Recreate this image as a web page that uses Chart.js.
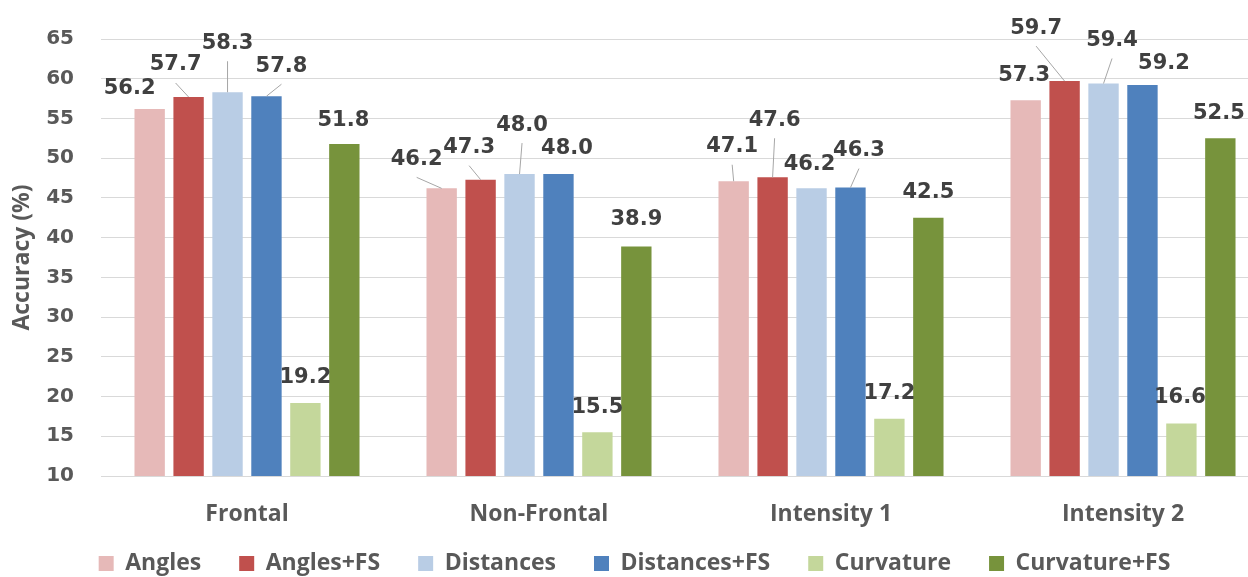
<!DOCTYPE html>
<html>
<head>
<meta charset="utf-8">
<script src="https://cdn.jsdelivr.net/npm/chart.js@4"></script>
<style>
  html, body { margin: 0; padding: 0; background: #fff; overflow: hidden; }
</style>
</head>
<body>
<canvas id="grafica" width="1330" height="602"></canvas>
<script>
const categories = ['Frontal', 'Non-Frontal', 'Intensity 1', 'Intensity 2'];
const seriesNames = ['Angles', 'Angles+FS', 'Distances', 'Distances+FS', 'Curvature', 'Curvature+FS'];

const angles      = [56.2, 46.2, 47.1, 57.3];
const anglesFS    = [57.7, 47.3, 47.6, 59.7];
const distances   = [58.3, 48.0, 46.2, 59.4];
const distancesFS = [57.8, 48.0, 46.3, 59.2];
const curvature   = [19.2, 15.5, 17.2, 16.6];
const curvatureFS = [51.8, 38.9, 42.5, 52.5];

const yTicks = { min: 10, max: 65, step: 5 };

const colores = ['#E6B9B8', '#C0504D', '#B9CDE5', '#4F81BD', '#C4D79B', '#77933C'];

// where each value label sits relative to the top of its bar: [dx, dy, leader line?]
const labelShift = [
  [[-20, -20, 0], [-25, -29, 1], [-1.5, -34.5, 1], [-1.5, -25, 0]],
  [[-13, -32, 1], [-11.5, -32, 1], [2, -57, 1], [-28.5, -53, 1]],
  [[0, -49, 1], [2.5, -49, 1], [-2, -24, 0], [8.5, -43, 1]],
  [[15, -30, 1], [8.5, -26, 0], [8.5, -37, 1], [21.5, -22, 0]],
  [[0, -25, 0], [0, -25, 0], [0, -25, 0], [-1.5, -26.5, 0]],
  [[-1, -23, 0], [0, -27, 0], [0, -25, 0], [-1.5, -25, 0]]
];

const valueLabels = {
  id: 'valueLabels',
  // pull the legend up a bit so it sits closer to the category names
  afterLayout(chart) {
    const lg = chart.legend;
    lg.top -= 17;
    lg.bottom -= 17;
  },
  afterDatasetsDraw(chart) {
    const ctx = chart.ctx;
    ctx.save();
    chart.data.datasets.forEach((ds, d) => {
      const meta = chart.getDatasetMeta(d);
      meta.data.forEach((bar, i) => {
        const [dx, dy, leader] = labelShift[d][i];
        const lx = bar.x + dx;
        const ly = bar.y + dy;
        if (leader) {
          ctx.strokeStyle = '#a6a6a6';
          ctx.lineWidth = 1;
          ctx.beginPath();
          ctx.moveTo(lx, ly + 18);
          ctx.lineTo(bar.x, bar.y);
          ctx.stroke();
        }
        ctx.font = 'bold 21px "DejaVu Sans"';
        ctx.fillStyle = '#404040';
        ctx.textAlign = 'center';
        ctx.textBaseline = 'middle';
        ctx.fillText(ds.data[i].toFixed(1), lx, ly);
      });
    });
    ctx.restore();
  }
};

const series = [angles, anglesFS, distances, distancesFS, curvature, curvatureFS];

new Chart(document.getElementById('grafica'), {
  type: 'bar',
  data: {
    labels: categories,
    datasets: series.map((vals, k) => ({
      label: seriesNames[k],
      data: vals,
      backgroundColor: colores[k],
      categoryPercentage: 0.8,
      barPercentage: 0.78
    }))
  },
  options: {
    responsive: false,
    animation: false,
    devicePixelRatio: 1,
    layout: { padding: { top: 34, right: 61, left: 0, bottom: 0 } },
    plugins: {
      tooltip: { enabled: false },
      legend: {
        position: 'bottom',
        labels: {
          boxWidth: 15,
          boxHeight: 15,
          padding: 38,
          color: '#595959',
          font: { family: '"Open Sans"', size: 23, weight: 'bold' }
        }
      }
    },
    scales: {
      x: {
        grid: { display: false },
        border: { display: false },
        ticks: {
          padding: 17,
          color: '#595959',
          font: { family: '"Open Sans"', size: 23, weight: 'bold' }
        },
        afterFit(scale) { scale.height = 55; }
      },
      y: {
        min: yTicks.min,
        max: yTicks.max,
        border: { display: false },
        grid: { color: '#d9d9d9', drawTicks: false },
        ticks: {
          stepSize: yTicks.step,
          padding: 27,
          color: '#595959',
          font: { family: '"DejaVu Sans"', size: 20, weight: 'bold' }
        },
        title: {
          display: true,
          text: 'Accuracy (%)',
          color: '#595959',
          padding: { top: 9, bottom: 0 },
          font: { family: '"Open Sans"', size: 23, weight: 'bold' }
        },
        afterFit(scale) { scale.width = 101; }
      }
    }
  },
  plugins: [valueLabels]
});
</script>
</body>
</html>
